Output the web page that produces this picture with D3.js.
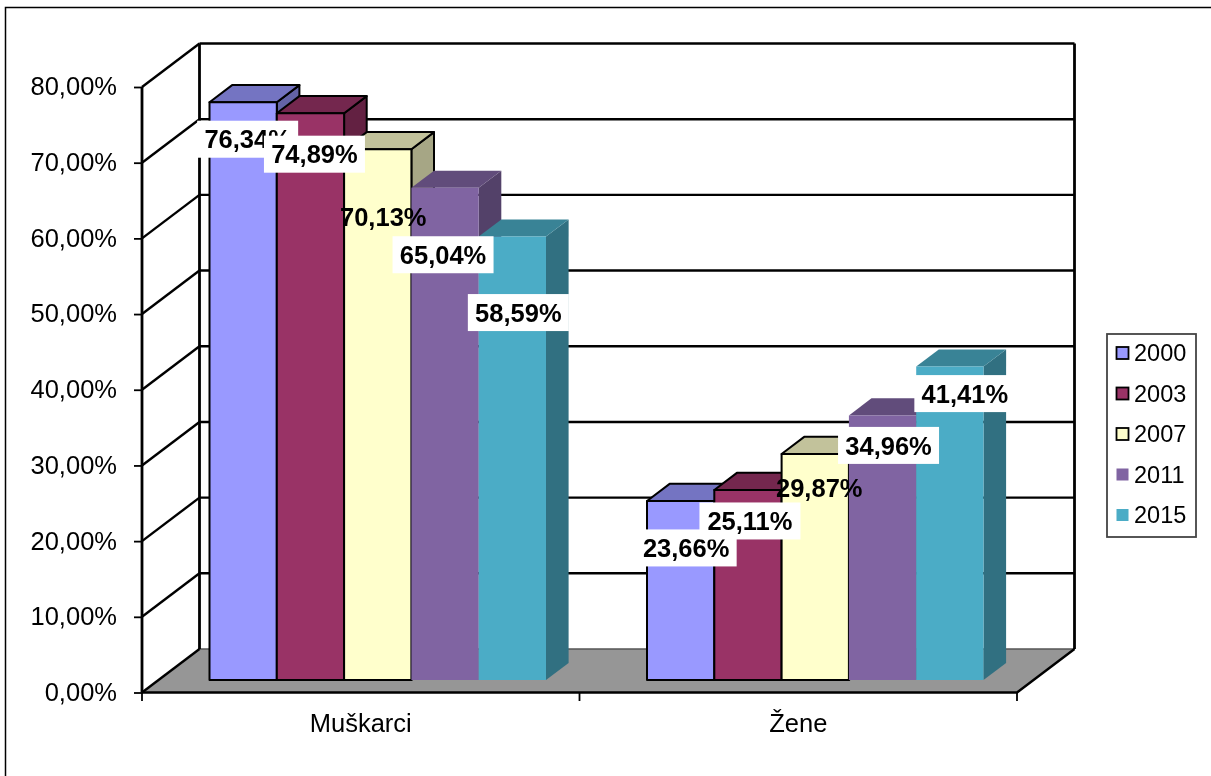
<!DOCTYPE html>
<html><head><meta charset="utf-8">
<script src="https://cdn.jsdelivr.net/npm/d3@7/dist/d3.min.js"></script>
<style>html,body{margin:0;padding:0;background:#fff}svg{display:block;filter:blur(0.4px)}text{font-family:"Liberation Sans",Arial,sans-serif;fill:#000}</style>
</head><body><svg id="c" width="1211" height="776"></svg>
<script>
const categories = ["Muškarci", "Žene"];
const years = ["2000", "2003", "2007", "2011", "2015"];
const muskarci = [76.34, 74.89, 70.13, 65.04, 58.59];
const zene = [23.66, 25.11, 29.87, 34.96, 41.41];
const colors = ["#9999FF", "#993366", "#FFFFCC", "#8064A2", "#4BACC6"];
const yTicks = [0, 10, 20, 30, 40, 50, 60, 70, 80];

const fmtLocale = d3.formatLocale({decimal: ",", thousands: ".", grouping: [3], currency: ["", ""]});
const fmt = v => fmtLocale.format(".2f")(v) + "%";
const svg = d3.select("#c");

// layout of the 3D box
const depthDX = 57.5, depthDY = -43.5;
const x = d3.scaleBand().domain(categories).range([142, 1017]);
const y = d3.scaleLinear().domain([0, 80]).range([692.5, 87]);
const inner = d3.scaleBand().domain(years).range([51, x.step() - 50]);
const barFront = 0.287, barBack = 0.68;
const P = (px, v, d) => [px + depthDX * d, y(v) + depthDY * d];
const poly = pts => pts.map(p => p.join(",")).join(" ");

// outer frame
svg.append("rect").attr("x", 5.5).attr("y", 7.5).attr("width", 1300).attr("height", 900)
  .attr("fill", "#fff").attr("stroke", "#000").attr("stroke-width", 1.5);

const x0 = x.range()[0], x1 = x.range()[1];
// floor
svg.append("polygon").attr("points", poly([P(x0,0,0), P(x1,0,0), P(x1,0,1), P(x0,0,1)])).attr("fill", "#969696");
svg.append("line").attr("x1", P(x0,0,1)[0]).attr("y1", P(x0,0,1)[1]).attr("x2", P(x1,0,1)[0]).attr("y2", P(x1,0,1)[1])
  .attr("stroke", "#555").attr("stroke-width", 1.5);

// back wall and left wall grid
const grid = svg.append("g").attr("stroke", "#000").attr("stroke-width", 2.4).attr("fill", "none");
yTicks.forEach(t => {
  if (t > 0) grid.append("line").attr("x1", P(x0,t,1)[0]).attr("y1", P(x0,t,1)[1]).attr("x2", P(x1,t,1)[0]).attr("y2", P(x1,t,1)[1]);
  grid.append("line").attr("x1", P(x0,t,0)[0]).attr("y1", P(x0,t,0)[1]).attr("x2", P(x0,t,1)[0]).attr("y2", P(x0,t,1)[1]);
});
[[x0,1],[x1,1],[x0,0]].forEach(([px,d]) => grid.append("line").attr("stroke-width", 2.8)
  .attr("x1", P(px,0,d)[0]).attr("y1", P(px,0,d)[1]).attr("x2", P(px,80,d)[0]).attr("y2", P(px,80,d)[1]));
// floor front and right edges
grid.append("polyline").attr("points", poly([P(x0,0,0), P(x1,0,0), P(x1,0,1)]));

// bars
const outlined = [true, true, true, false, false];
const dim = (c, k) => { const r = d3.rgb(c); return d3.rgb(r.r * k, r.g * k, r.b * k).formatHex(); };
const series = categories.map((c, i) => ({c, values: i === 0 ? muskarci : zene}));
series.forEach(s => {
  s.values.forEach((v, j) => {
    const yr = years[j];
    const a = x(s.c) + inner(yr), b = a + inner.bandwidth();
    const g = svg.append("g");
    if (outlined[j]) g.attr("stroke", "#000").attr("stroke-width", 2).attr("stroke-linejoin", "round");
    const col = colors[j];
    g.append("polygon").attr("fill", dim(col, 0.65))
      .attr("points", poly([P(b,0,barFront), P(b,0,barBack), P(b,v,barBack), P(b,v,barFront)]));
    g.append("polygon").attr("fill", dim(col, 0.76))
      .attr("points", poly([P(a,v,barFront), P(b,v,barFront), P(b,v,barBack), P(a,v,barBack)]));
    g.append("polygon").attr("fill", col)
      .attr("points", poly([P(a,0,barFront), P(b,0,barFront), P(b,v,barFront), P(a,v,barFront)]));
  });
});

// axes
const axL = svg.append("g").attr("transform", "translate(142,0)")
  .call(d3.axisLeft(y).tickValues(yTicks).tickFormat(fmt).tickSize(8).tickPadding(17));
axL.select(".domain").remove();
axL.selectAll("line").attr("stroke", "#000").attr("stroke-width", 1.8);
axL.selectAll("text").style("font-size", "25.5px").attr("dy", "0.31em");

const edge = d3.scaleOrdinal().domain([0,1,2]).range([x0, x(categories[1]), x1]);
[0,1,2].forEach(i => svg.append("line").attr("x1", edge(i)).attr("x2", edge(i)).attr("y1", 692.5).attr("y2", 701)
  .attr("stroke", "#000").attr("stroke-width", 1.8));
svg.selectAll("text.cat").data(categories).join("text").attr("class", "cat")
  .attr("x", d => x(d) + x.bandwidth() / 2).attr("y", 732).attr("text-anchor", "middle")
  .style("font-size", "25.5px").text(d => d);

// data labels: hand placement relative to each bar's front-top centre
const nudge = [
  [[4.5,37],[4,41],[5.5,68],[-2,67],[6,76]],
  [[5.5,47],[2,31],[4,34],[6,30],[15,27]]
];
const plainLabel = [false, false, true, false, false];
const labels = svg.append("g");
series.forEach((s, si) => {
  s.values.forEach((v, j) => {
    const yr = years[j];
    const a = x(s.c) + inner(yr), w = inner.bandwidth();
    const p = P(a + w / 2, v, barFront);
    const cx = p[0] + nudge[si][j][0], cy = p[1] + nudge[si][j][1];
    if (!plainLabel[j]) labels.append("rect").attr("x", cx - 50.5).attr("y", cy - 18.5).attr("width", 101).attr("height", 37).attr("fill", "#fff");
    labels.append("text").attr("x", cx).attr("y", cy).attr("dy", "0.36em").attr("text-anchor", "middle")
      .style("font-size", "25.5px").style("font-weight", "bold").text(fmt(v));
  });
});

// legend
const leg = svg.append("g");
leg.append("rect").attr("x", 1107).attr("y", 334).attr("width", 89).attr("height", 203)
  .attr("fill", "#fff").attr("stroke", "#444").attr("stroke-width", 1.8);
const legY = d3.scalePoint().domain(years).range([353, 515]);
years.forEach((yr, j) => {
  leg.append("rect").attr("x", 1116.5).attr("y", legY(yr) - 6).attr("width", 12).attr("height", 12)
    .attr("fill", colors[j]).attr("stroke", outlined[j] ? "#000" : "none").attr("stroke-width", 1.8);
  leg.append("text").attr("x", 1134).attr("y", legY(yr)).attr("dy", "0.36em").style("font-size", "23.5px").text(yr);
});
</script></body></html>
